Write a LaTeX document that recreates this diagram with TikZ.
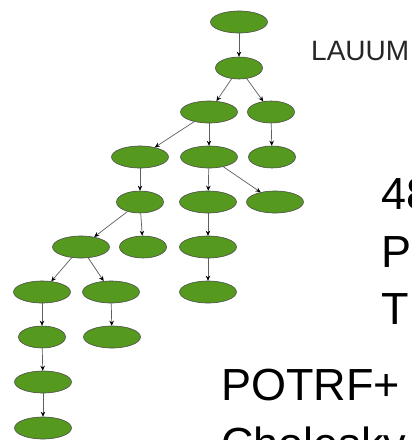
\documentclass[tikz,border=0pt]{standalone}
\usepackage{fontspec}
\setmainfont{Liberation Sans}
\usetikzlibrary{shapes.geometric, arrows.meta}
\definecolor{taskgreen}{RGB}{85,154,30}
\definecolor{edgegray}{RGB}{95,95,95}

\begin{document}
\begin{tikzpicture}[
    x=1pt, y=-1pt,
    task/.style={ellipse, draw=black!70, line width=0.6pt, fill=taskgreen,
                 minimum width=47pt, minimum height=22pt, inner sep=0pt},
    wide/.style={task, minimum width=57pt},
    arr/.style={-{Stealth[length=5pt, width=4.5pt, color=black]}, edgegray,
                line width=0.7pt},
    big/.style={anchor=base west, inner sep=0pt, font=\fontsize{45}{54}\selectfont}
]
\clip (0,0) rectangle (412,440);
\fill[white] (0,0) rectangle (412,440);

% Tree of tasks, level by level
\node[wide] (root) at (239,22)  {};
\node[task] (n2)   at (239,68)  {};
\node[wide] (n3a)  at (209,112) {};
\node[task] (n3b)  at (271,112) {};
\node[wide] (n4a)  at (140,157) {};
\node[wide] (n4b)  at (209,157) {};
\node[task] (n4c)  at (272,157) {};
\node[task] (n5a)  at (140,202) {};
\node[wide] (n5b)  at (208,202) {};
\node[wide] (n5c)  at (275,202) {};
\node[wide] (n6a)  at (81,247)  {};
\node[task] (n6b)  at (143,247) {};
\node[wide] (n6c)  at (208,247) {};
\node[wide] (n7a)  at (42,292)  {};
\node[wide] (n7b)  at (111,292) {};
\node[wide] (n7c)  at (208,292) {};
\node[task] (n8a)  at (42,337)  {};
\node[wide] (n8b)  at (112,337) {};
\node[wide] (n9)   at (43,382)  {};
\node[wide] (n10)  at (43,428)  {};

% Dependencies
\foreach \src/\dst in {root/n2, n2/n3a, n2/n3b, n3a/n4a, n3a/n4b, n3b/n4c,
                       n4a/n5a, n4b/n5b, n4b/n5c, n5a/n6a, n5a/n6b, n5b/n6c,
                       n6a/n7a, n6a/n7b, n6c/n7c, n7a/n8a, n7b/n8b,
                       n8a/n9, n9/n10}
    \draw[arr] (\src) -- (\dst);

% Labels
\node[anchor=base west, inner sep=0pt, font=\fontsize{28}{34}\selectfont,
      text=black!85] (lauum) at (311,60) {LAUUM};
\node[big] (num)  at (381,209) {48};
\node[big] (lp)   at (381,267) {P};
\node[big] (lt)   at (381,324) {T};
\node[big] (potrf) at (221,400) {POTRF+};
\node[big] (chol)  at (221,459) {Cholesky};
\end{tikzpicture}
\end{document}
